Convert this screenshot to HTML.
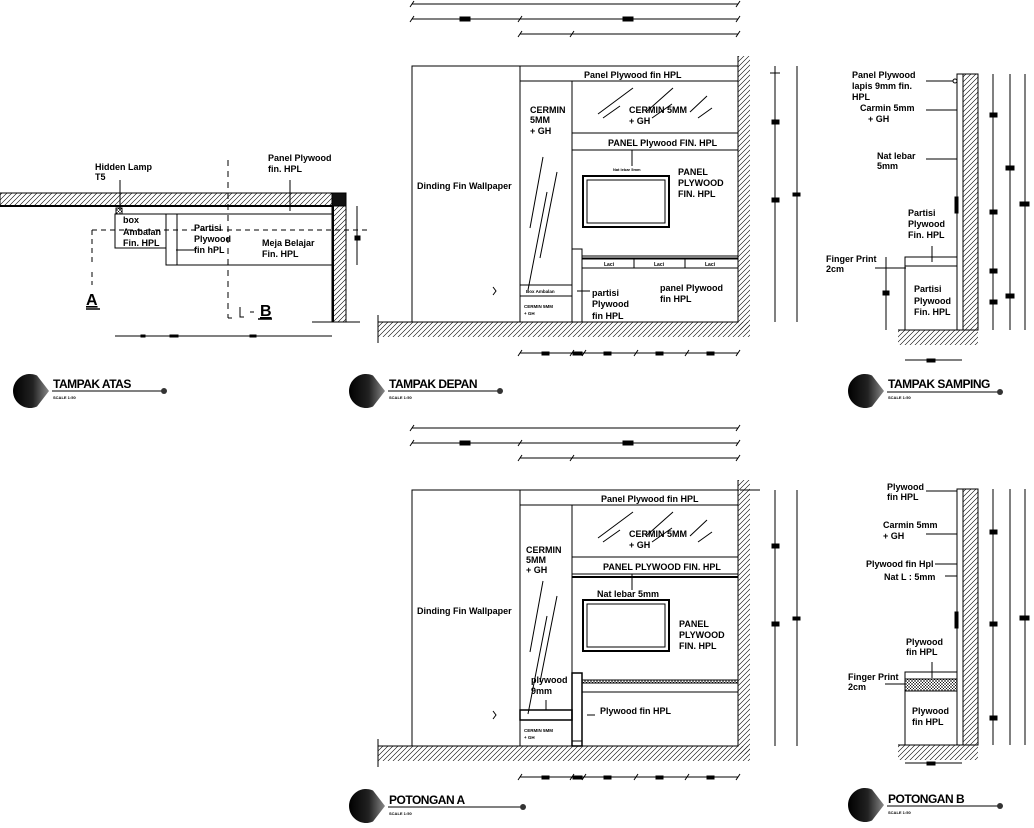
<!DOCTYPE html>
<html><head><meta charset="utf-8"><style>
html,body{margin:0;padding:0;background:#fff;}
svg{display:block;}
text{font-family:"Liberation Sans",sans-serif;font-weight:bold;fill:#000;}
</style></head><body>
<svg width="1034" height="828" viewBox="0 0 1034 828" xmlns="http://www.w3.org/2000/svg">
<defs>
<pattern id="h" width="5" height="5" patternUnits="userSpaceOnUse">
<path d="M0,5 L5,0 M-1,1 L1,-1 M4,6 L6,4" stroke="#000" stroke-width="0.6"/>
</pattern>
<pattern id="x" width="3" height="3" patternUnits="userSpaceOnUse">
<path d="M0,3 L3,0 M0,0 L3,3" stroke="#000" stroke-width="0.5"/>
</pattern>
<linearGradient id="g" x1="0" y1="0" x2="1" y2="0"><stop offset="0" stop-color="#000"/><stop offset="0.55" stop-color="#222"/><stop offset="1" stop-color="#888"/></linearGradient>
<path id="ic" d="M7,-15.5 A17,17 0 1 0 7,15.5 L19,0 Z" fill="url(#g)"/>
</defs>
<g fill="none" stroke="#000" stroke-width="1">

<!-- ========== TAMPAK ATAS ========== -->
<rect x="0" y="193" width="333" height="13" fill="url(#h)"/>
<line x1="0" y1="206" x2="333" y2="206" stroke-width="2"/>
<rect x="332" y="193" width="14" height="13" fill="#111"/>
<rect x="332" y="206" width="14" height="116" fill="url(#h)"/>
<line x1="333" y1="206" x2="333" y2="322" stroke-width="2"/>
<line x1="312" y1="322" x2="360" y2="322"/>
<rect x="115" y="214" width="51" height="34"/>
<rect x="166" y="214" width="166" height="51"/>
<line x1="177" y1="214" x2="177" y2="265"/>
<rect x="116" y="208" width="6" height="6" fill="url(#x)"/>
<path d="M92,230 H370" stroke-dasharray="5,4"/>
<path d="M92,230 V262 M92,272 V285" stroke-dasharray="5,4"/>
<path d="M228,160 V318" stroke-dasharray="6,5"/>
<path d="M228,318 h4 M240,307 v10 h4 M250,312 h4"/>
<line x1="120" y1="180" x2="120" y2="210"/><line x1="290" y1="180" x2="290" y2="211"/>
<line x1="176" y1="250" x2="196" y2="250"/>
<line x1="357" y1="206" x2="357" y2="265"/><rect x="355" y="236" width="5" height="4" fill="#000"/>
<line x1="115" y1="336" x2="332" y2="336"/>
<rect x="141" y="335" width="4" height="2" fill="#000"/><rect x="170" y="335" width="8" height="2" fill="#000"/><rect x="250" y="335" width="6" height="2" fill="#000"/>
<line x1="86" y1="309" x2="100" y2="309" stroke-width="1.5"/>
<line x1="258" y1="319" x2="272" y2="319" stroke-width="1.5"/>

<!-- ========== ELEVATIONS ========== -->
<g id="frame">
<rect x="412" y="66" width="326" height="256"/>
<line x1="520" y1="66" x2="520" y2="322"/>
<line x1="572" y1="81" x2="572" y2="322"/>
<line x1="520" y1="81" x2="738" y2="81"/>
<line x1="572" y1="133" x2="738" y2="133"/>
<line x1="572" y1="150" x2="738" y2="150"/>
<rect x="738" y="56" width="12" height="274" fill="url(#h)" stroke="none"/>
<line x1="738" y1="56" x2="738" y2="322"/>
<rect x="378" y="322" width="372" height="15" fill="url(#h)" stroke="none"/>
<line x1="378" y1="322" x2="738" y2="322"/>
<line x1="378" y1="315" x2="378" y2="343"/>
<path d="M598,114 L633,88 M603,118 L620,106 M646,112 L673,88 M652,118 L672,104 M690,112 L707,96 M698,118 L712,108"/>
<path d="M530,228 L543,157 M540,258 L557,172 M528,290 L547,192"/>
<rect x="583" y="176" width="86" height="51" stroke-width="2"/>
<rect x="587" y="180" width="78" height="43"/>
<line x1="632" y1="150" x2="632" y2="166"/>
<line x1="412" y1="4" x2="738" y2="4"/>
<line x1="412" y1="19" x2="738" y2="19"/><rect x="460" y="17" width="10" height="4" fill="#000"/><rect x="623" y="17" width="10" height="4" fill="#000"/>
<line x1="520" y1="34" x2="738" y2="34"/>
<path d="M410,7 l4,-6 M736,7 l4,-6 M410,22 l4,-6 M518,22 l4,-6 M736,22 l4,-6 M518,37 l4,-6 M570,37 l4,-6 M736,37 l4,-6"/>
<line x1="520" y1="353" x2="738" y2="353"/>
<path d="M518,356 l4,-6 M570,356 l4,-6 M582,356 l4,-6 M634,356 l4,-6 M685,356 l4,-6 M736,356 l4,-6"/>
<rect x="542" y="352" width="7" height="3" fill="#000"/><rect x="573" y="352" width="9" height="3" fill="#000"/><rect x="604" y="352" width="7" height="3" fill="#000"/><rect x="656" y="352" width="7" height="3" fill="#000"/><rect x="707" y="352" width="7" height="3" fill="#000"/>
<line x1="775" y1="66" x2="775" y2="322"/>
<line x1="797" y1="66" x2="797" y2="322"/>
<rect x="772" y="120" width="7" height="4" fill="#000"/><rect x="772" y="198" width="7" height="4" fill="#000"/>
<rect x="793" y="193" width="7" height="3" fill="#000"/>
<path d="M493,287 l3,4 l-3,4" />
</g>

<line x1="520" y1="285" x2="572" y2="285"/><line x1="520" y1="296" x2="572" y2="296"/>
<rect x="572" y="249" width="10" height="73"/>
<line x1="582" y1="256" x2="738" y2="256"/><line x1="582" y1="258" x2="738" y2="258"/>
<rect x="582" y="259" width="156" height="9"/>
<line x1="634" y1="259" x2="634" y2="268"/><line x1="685" y1="259" x2="685" y2="268"/>
<line x1="577" y1="291" x2="590" y2="291"/>
<line x1="770" y1="73" x2="780" y2="73"/>

<use href="#frame" transform="translate(0,424)"/>
<line x1="572" y1="741" x2="582" y2="741"/>
<rect x="572" y="673" width="10" height="73" stroke-width="1.5"/>
<rect x="582" y="680" width="156" height="12" fill="none"/>
<rect x="582" y="680" width="156" height="3" fill="url(#x)"/>
<rect x="520" y="710" width="52" height="10" stroke-width="1.5"/>
<line x1="546" y1="700" x2="546" y2="710"/>
<line x1="572" y1="577" x2="738" y2="577" stroke-width="2"/>
<line x1="587" y1="715" x2="595" y2="715"/>
<line x1="740" y1="490" x2="760" y2="490"/>

<!-- ========== TAMPAK SAMPING ========== -->
<rect x="957" y="74" width="6" height="256"/>
<rect x="963" y="74" width="15" height="256" fill="url(#h)"/>
<rect x="898" y="330" width="80" height="15" fill="url(#h)" stroke="none"/>
<line x1="898" y1="330" x2="978" y2="330"/>
<rect x="905" y="257" width="52" height="73"/>
<line x1="905" y1="266" x2="957" y2="266"/>
<rect x="955" y="197" width="3" height="16" fill="#000"/>
<circle cx="955" cy="81" r="2"/>
<line x1="926" y1="81" x2="953" y2="81"/><line x1="926" y1="110" x2="957" y2="110"/><line x1="926" y1="159" x2="957" y2="159"/><line x1="875" y1="268" x2="906" y2="268"/>
<line x1="932" y1="246" x2="932" y2="262"/>
<line x1="993" y1="74" x2="993" y2="330"/><line x1="1010" y1="74" x2="1010" y2="330"/><line x1="1025" y1="74" x2="1025" y2="330"/>
<rect x="990" y="113" width="7" height="4" fill="#000"/><rect x="990" y="210" width="7" height="4" fill="#000"/><rect x="990" y="269" width="7" height="4" fill="#000"/><rect x="990" y="300" width="7" height="4" fill="#000"/>
<rect x="1006" y="166" width="8" height="4" fill="#000"/><rect x="1006" y="294" width="8" height="4" fill="#000"/><rect x="1020" y="202" width="9" height="4" fill="#000"/>
<line x1="886" y1="257" x2="886" y2="330"/><rect x="883" y="291" width="6" height="4" fill="#000"/>
<line x1="905" y1="360" x2="962" y2="360"/><rect x="927" y="359" width="8" height="3" fill="#000"/>

<!-- ========== POTONGAN B ========== -->
<rect x="957" y="489" width="6" height="256"/>
<rect x="963" y="489" width="15" height="256" fill="url(#h)"/>
<rect x="898" y="745" width="80" height="15" fill="url(#h)" stroke="none"/>
<line x1="898" y1="745" x2="978" y2="745"/>
<rect x="905" y="672" width="52" height="73"/>
<rect x="905" y="679" width="52" height="12" fill="url(#x)"/>
<rect x="955" y="612" width="3" height="16" fill="#000"/>
<line x1="926" y1="491" x2="957" y2="491"/><line x1="926" y1="534" x2="957" y2="534"/><line x1="935" y1="564" x2="957" y2="564"/><line x1="945" y1="576" x2="957" y2="576"/><line x1="885" y1="684" x2="906" y2="684"/>
<line x1="932" y1="662" x2="932" y2="678"/>
<line x1="993" y1="489" x2="993" y2="745"/><line x1="1010" y1="489" x2="1010" y2="745"/><line x1="1025" y1="489" x2="1025" y2="745"/>
<rect x="990" y="530" width="7" height="4" fill="#000"/><rect x="990" y="622" width="7" height="4" fill="#000"/><rect x="990" y="716" width="7" height="4" fill="#000"/>
<rect x="1020" y="616" width="9" height="4" fill="#000"/>
<line x1="905" y1="763" x2="962" y2="763"/><rect x="927" y="762" width="8" height="3" fill="#000"/>
</g>

<!-- ========== TITLES ========== -->
<g>
<use href="#ic" transform="translate(30,391)"/>
<line x1="52" y1="391" x2="162" y2="391" stroke="#000"/><circle cx="164" cy="391" r="3" fill="#333"/>
<text x="53" y="388" font-size="12" letter-spacing="-0.5">TAMPAK ATAS</text><text x="53" y="399" font-size="4">SCALE 1:50</text>

<use href="#ic" transform="translate(366,391)"/>
<line x1="388" y1="391" x2="498" y2="391" stroke="#000"/><circle cx="500" cy="391" r="3" fill="#333"/>
<text x="389" y="388" font-size="12" letter-spacing="-0.5">TAMPAK DEPAN</text><text x="389" y="399" font-size="4">SCALE 1:50</text>

<use href="#ic" transform="translate(865,391)"/>
<line x1="887" y1="392" x2="998" y2="392" stroke="#000"/><circle cx="1000" cy="392" r="3" fill="#333"/>
<text x="888" y="388" font-size="12" letter-spacing="-0.5">TAMPAK SAMPING</text><text x="888" y="399" font-size="4">SCALE 1:50</text>

<use href="#ic" transform="translate(366,806)"/>
<line x1="388" y1="807" x2="520" y2="807" stroke="#000"/><circle cx="523" cy="807" r="3" fill="#333"/>
<text x="389" y="804" font-size="12" letter-spacing="-0.5">POTONGAN A</text><text x="389" y="815" font-size="4">SCALE 1:50</text>

<use href="#ic" transform="translate(865,805)"/>
<line x1="887" y1="806" x2="998" y2="806" stroke="#000"/><circle cx="1000" cy="806" r="3" fill="#333"/>
<text x="888" y="803" font-size="12" letter-spacing="-0.5">POTONGAN B</text><text x="888" y="814" font-size="4">SCALE 1:50</text>
</g>

<!-- ========== LABELS ========== -->
<g font-size="9">
<text x="95" y="170">Hidden Lamp</text><text x="95" y="180">T5</text>
<text x="268" y="161">Panel Plywood</text><text x="268" y="172">fin. HPL</text>
<text x="123" y="223">box</text><text x="123" y="235">Ambalan</text><text x="123" y="246">Fin. HPL</text>
<text x="194" y="231">Partisi</text><text x="194" y="242">Plywood</text><text x="194" y="253">fin hPL</text>
<text x="262" y="246">Meja Belajar</text><text x="262" y="257">Fin. HPL</text>
<text x="86" y="305" font-size="16" font-family="Liberation Serif" text-decoration="underline">A</text>
<text x="260" y="316" font-size="16" font-family="Liberation Serif" text-decoration="underline">B</text>

<text x="584" y="78">Panel Plywood  fin HPL</text>
<text x="530" y="113">CERMIN</text><text x="530" y="123">5MM</text><text x="530" y="134">+ GH</text>
<text x="629" y="113">CERMIN 5MM</text><text x="629" y="124">+ GH</text>
<text x="608" y="146">PANEL Plywood FIN. HPL</text>
<text x="613" y="171" font-size="4">Nat lebar 5mm</text>
<text x="678" y="175">PANEL</text><text x="678" y="186">PLYWOOD</text><text x="678" y="197">FIN. HPL</text>
<text x="417" y="189">Dinding Fin Wallpaper</text>
<text x="604" y="266" font-size="5">Laci</text><text x="654" y="266" font-size="5">Laci</text><text x="705" y="266" font-size="5">Laci</text>
<text x="526" y="293" font-size="4.5">Box Ambalan</text>
<text x="524" y="308" font-size="4.5">CERMIN 5MM</text><text x="524" y="315" font-size="4.5">+ GH</text>
<text x="592" y="296">partisi</text><text x="592" y="307">Plywood</text><text x="592" y="319">fin HPL</text>
<text x="660" y="291">panel Plywood</text><text x="660" y="302">fin HPL</text>

<text x="601" y="502">Panel Plywood  fin HPL</text>
<text x="526" y="553">CERMIN</text><text x="526" y="563">5MM</text><text x="526" y="573">+ GH</text>
<text x="629" y="537">CERMIN 5MM</text><text x="629" y="548">+ GH</text>
<text x="603" y="570">PANEL PLYWOOD FIN. HPL</text>
<text x="597" y="597">Nat lebar 5mm</text>
<text x="679" y="627">PANEL</text><text x="679" y="638">PLYWOOD</text><text x="679" y="649">FIN. HPL</text>
<text x="417" y="614">Dinding Fin Wallpaper</text>
<text x="531" y="683">plywood</text><text x="531" y="694">9mm</text>
<text x="600" y="714">Plywood fin HPL</text>
<text x="524" y="732" font-size="4.5">CERMIN 5MM</text><text x="524" y="739" font-size="4.5">+ GH</text>

<text x="852" y="78">Panel Plywood</text><text x="852" y="89">lapis 9mm fin.</text><text x="852" y="100">HPL</text>
<text x="860" y="111">Carmin 5mm</text><text x="868" y="122">+ GH</text>
<text x="877" y="159">Nat lebar</text><text x="877" y="169">5mm</text>
<text x="908" y="216">Partisi</text><text x="908" y="227">Plywood</text><text x="908" y="238">Fin. HPL</text>
<text x="826" y="262">Finger Print</text><text x="826" y="272">2cm</text>
<text x="914" y="292">Partisi</text><text x="914" y="304">Plywood</text><text x="914" y="315">Fin. HPL</text>

<text x="887" y="490">Plywood</text><text x="887" y="500">fin HPL</text>
<text x="883" y="528">Carmin 5mm</text><text x="883" y="539">+ GH</text>
<text x="866" y="567">Plywood fin Hpl</text>
<text x="884" y="580">Nat L : 5mm</text>
<text x="906" y="645">Plywood</text><text x="906" y="655">fin HPL</text>
<text x="848" y="680">Finger Print</text><text x="848" y="690">2cm</text>
<text x="912" y="714">Plywood</text><text x="912" y="725">fin HPL</text>
</g>
</svg>
</body></html>
